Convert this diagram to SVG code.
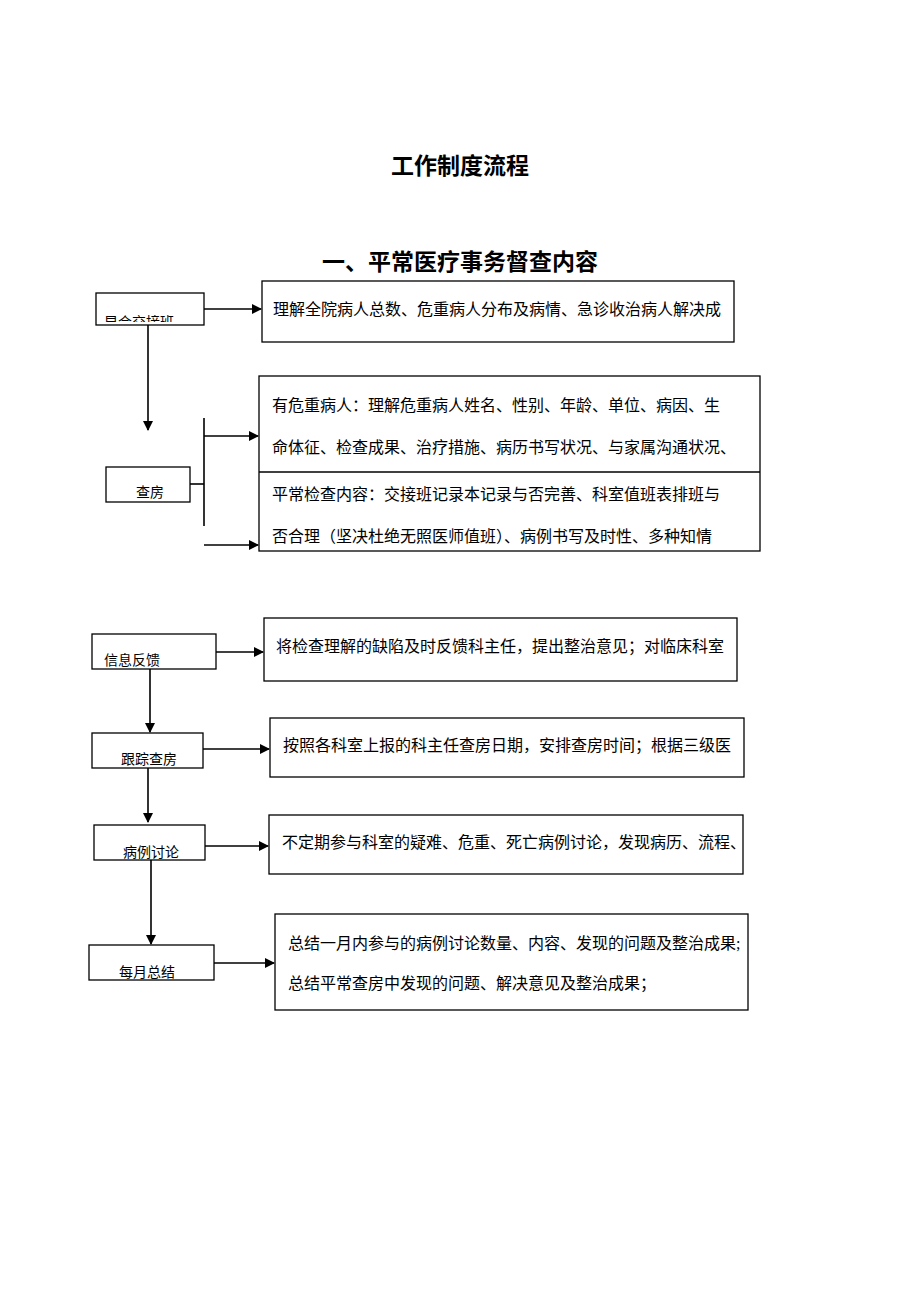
<svg xmlns="http://www.w3.org/2000/svg" width="920" height="1302" viewBox="0 0 920 1302">
<defs>
<style>
.b{fill:#fff;stroke:#000;stroke-width:1.3}
.l{stroke:#000;stroke-width:1.6;fill:none}
.t{font-family:"Liberation Serif","Noto Sans CJK SC",serif;font-size:16px;fill:#000}
.n{font-family:"Liberation Sans","Noto Sans CJK SC",sans-serif;font-size:14px;fill:#000}
.h{font-family:"Liberation Sans","Noto Sans CJK SC",sans-serif;font-size:23px;font-weight:bold;fill:#000;text-anchor:middle}
</style>
<marker id="a" markerWidth="10" markerHeight="10" refX="9" refY="5" orient="auto" markerUnits="userSpaceOnUse"><path d="M0,0 L10,5 L0,10 Z" fill="#000"/></marker>
<clipPath id="c1"><rect x="96" y="293" width="108" height="29"/></clipPath>
</defs>
<rect width="920" height="1302" fill="#fff"/>
<text class="h" x="460" y="174">工作制度流程</text>
<text class="h" x="460" y="270">一、平常医疗事务督查内容</text>
<g id="connectors">
<line class="l" x1="204" y1="309" x2="261" y2="309" marker-end="url(#a)"/>
<line class="l" x1="148" y1="325" x2="148" y2="430" marker-end="url(#a)"/>
<line class="l" x1="190" y1="484" x2="204" y2="484"/>
<line class="l" x1="204" y1="418" x2="204" y2="526"/>
<line class="l" x1="204" y1="436" x2="258" y2="436" marker-end="url(#a)"/>
<line class="l" x1="204" y1="545" x2="258" y2="545" marker-end="url(#a)"/>
<line class="l" x1="216" y1="652" x2="263" y2="652" marker-end="url(#a)"/>
<line class="l" x1="150" y1="669" x2="150" y2="732" marker-end="url(#a)"/>
<line class="l" x1="203" y1="749" x2="269" y2="749" marker-end="url(#a)"/>
<line class="l" x1="148" y1="768" x2="148" y2="822" marker-end="url(#a)"/>
<line class="l" x1="205" y1="846" x2="268" y2="846" marker-end="url(#a)"/>
<line class="l" x1="151" y1="860" x2="151" y2="944" marker-end="url(#a)"/>
<line class="l" x1="214" y1="963" x2="274" y2="963" marker-end="url(#a)"/>
</g>
<g id="n1"><rect class="b" x="96" y="293" width="108" height="32"/><text class="n" x="104" y="327" clip-path="url(#c1)">早会交接班</text></g>
<g id="r1"><rect class="b" x="262" y="281" width="472" height="61"/><text class="t" x="273" y="315">理解全院病人总数、危重病人分布及病情、急诊收治病人解决成</text></g>
<g id="n2"><rect class="b" x="106" y="467" width="84" height="35"/><text class="n" x="136" y="497">查房</text></g>
<g id="r2"><rect class="b" x="259" y="376" width="501" height="175"/><line class="l" x1="259" y1="472" x2="760" y2="472" stroke-width="1.3"/>
<text class="t" x="272" y="411">有危重病人：理解危重病人姓名、性别、年龄、单位、病因、生</text>
<text class="t" x="272" y="453">命体征、检查成果、治疗措施、病历书写状况、与家属沟通状况、</text>
<text class="t" x="272" y="500">平常检查内容：交接班记录本记录与否完善、科室值班表排班与</text>
<text class="t" x="272" y="542">否合理（坚决杜绝无照医师值班）、病例书写及时性、多种知情</text></g>
<g id="n3"><rect class="b" x="92" y="634" width="124" height="35"/><text class="n" x="104" y="665">信息反馈</text></g>
<g id="r3"><rect class="b" x="264" y="618" width="473" height="63"/><text class="t" x="276" y="652">将检查理解的缺陷及时反馈科主任，提出整治意见；对临床科室</text></g>
<g id="n4"><rect class="b" x="92" y="733" width="111" height="35"/><text class="n" x="121" y="764">跟踪查房</text></g>
<g id="r4"><rect class="b" x="270" y="718" width="474" height="59"/><text class="t" x="283" y="751">按照各科室上报的科主任查房日期，安排查房时间；根据三级医</text></g>
<g id="n5"><rect class="b" x="94" y="825" width="111" height="35"/><text class="n" x="123" y="857">病例讨论</text></g>
<g id="r5"><rect class="b" x="269" y="815" width="474" height="59"/><text class="t" x="282" y="848">不定期参与科室的疑难、危重、死亡病例讨论，发现病历、流程、</text></g>
<g id="n6"><rect class="b" x="89" y="945" width="125" height="35"/><text class="n" x="119" y="977">每月总结</text></g>
<g id="r6"><rect class="b" x="275" y="914" width="473" height="96"/>
<text class="t" x="288" y="949">总结一月内参与的病例讨论数量、内容、发现的问题及整治成果;</text>
<text class="t" x="288" y="989">总结平常查房中发现的问题、解决意见及整治成果；</text></g>
</svg>
